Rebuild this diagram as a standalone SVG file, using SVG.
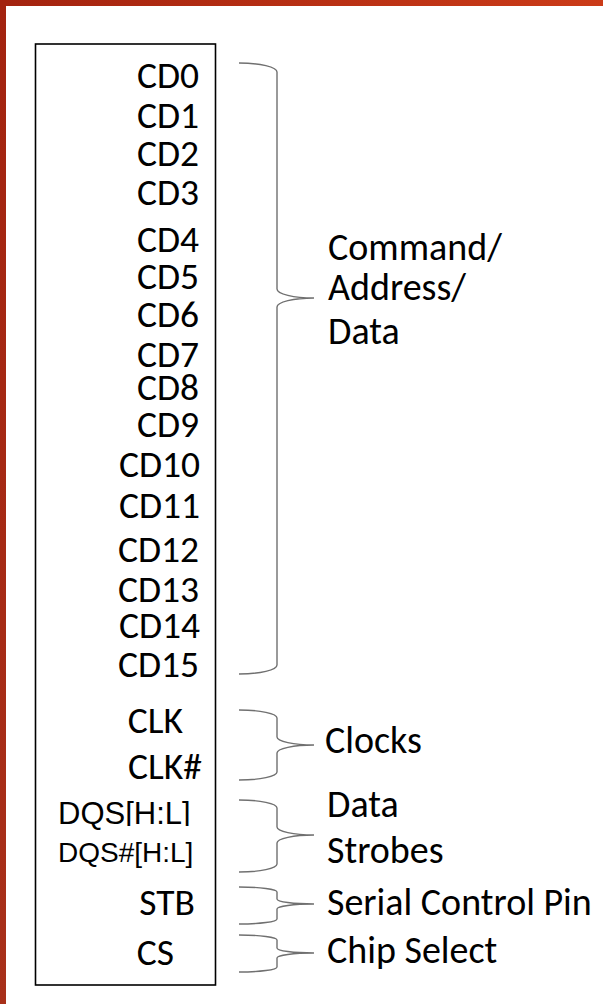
<svg xmlns="http://www.w3.org/2000/svg" width="603" height="1004" viewBox="0 0 603 1004">
  <defs>
    <linearGradient id="barTop" x1="0" y1="0" x2="1" y2="0">
      <stop offset="0" stop-color="#a3230f"/>
      <stop offset="1" stop-color="#cb3b18"/>
    </linearGradient>
    <linearGradient id="barLeft" x1="0" y1="0" x2="0" y2="1">
      <stop offset="0" stop-color="#a3230f"/>
      <stop offset="1" stop-color="#a8301a"/>
    </linearGradient>
    <!-- text box edge trims the bracket feet of the first strobe label -->
    <clipPath id="dqsClip">
      <rect x="40" y="790" width="86" height="45"/>
      <rect x="126" y="790" width="84" height="36"/>
    </clipPath>
    <style>
      .pin { font-family: Carlito, Lato, "Open Sans", sans-serif; font-size: 37.5px; fill: #000; text-anchor: end; }
      .pina { font-family: "Liberation Sans", Arial, sans-serif; fill: #000; }
      .grp { font-family: Carlito, Lato, "Open Sans", sans-serif; font-size: 38px; fill: #000; }
      .brace { fill: none; stroke: #707070; stroke-width: 1.4; }
    </style>
  </defs>

  <rect width="603" height="1004" fill="#ffffff"/>
  <!-- frame bars -->
  <rect x="0" y="0" width="603" height="6" fill="url(#barTop)"/>
  <rect x="0" y="0" width="6" height="1004" fill="url(#barLeft)"/>

  <!-- pin block -->
  <g id="pin-block">
    <rect x="35.5" y="44" width="180" height="941" fill="#fff" stroke="#000" stroke-width="1.6"/>
  </g>

  <g id="pins-cd">
    <text class="pin" x="199" y="88">CD0</text>
    <text class="pin" x="199" y="128">CD1</text>
    <text class="pin" x="199" y="166">CD2</text>
    <text class="pin" x="199" y="205">CD3</text>
    <text class="pin" x="199" y="252">CD4</text>
    <text class="pin" x="199" y="289">CD5</text>
    <text class="pin" x="199" y="327">CD6</text>
    <text class="pin" x="199" y="367">CD7</text>
    <text class="pin" x="199" y="400">CD8</text>
    <text class="pin" x="199" y="437">CD9</text>
    <text class="pin" x="200" y="477">CD10</text>
    <text class="pin" x="200" y="518">CD11</text>
    <text class="pin" x="199" y="562">CD12</text>
    <text class="pin" x="199" y="602">CD13</text>
    <text class="pin" x="200" y="638">CD14</text>
    <text class="pin" x="199" y="677">CD15</text>
  </g>

  <g id="pins-clk">
    <text class="pin" x="183" y="733">CLK</text>
    <text class="pin" x="202" y="779">CLK#</text>
  </g>

  <g id="pins-dqs">
    <text class="pina" x="58" y="824" font-size="31" clip-path="url(#dqsClip)">DQS[H:L]</text>
    <text class="pina" x="58" y="862" font-size="28">DQS#[H:L]</text>
  </g>

  <g id="pin-stb">
    <text class="pin" x="195" y="915">STB</text>
  </g>
  <g id="pin-cs">
    <text class="pin" x="174" y="965">CS</text>
  </g>

  <!-- group braces -->
  <g id="connectors">
    <path class="brace" d="M239 63 A38 9 0 0 1 277 72 L277 289 A37 9 0 0 0 314 298 A37 9 0 0 0 277 307 L277 665 A38 9 0 0 1 239 674"/>
    <path class="brace" d="M239 710 A38 8 0 0 1 277 718 L277 737 A37 8 0 0 0 314 745 A37 8 0 0 0 277 753 L277 772 A38 8 0 0 1 239 780"/>
    <path class="brace" d="M239 800 A38 8 0 0 1 277 808 L277 827 A37 8 0 0 0 314 835 A37 8 0 0 0 277 843 L277 864 A38 8 0 0 1 239 872"/>
    <path class="brace" d="M239 887 A38 5 0 0 1 277 892 L277 899 A37 5 0 0 0 314 904 A37 5 0 0 0 277 909 L277 919 A38 5 0 0 1 239 924"/>
    <path class="brace" d="M239 935 A38 5 0 0 1 277 940 L277 948 A37 5 0 0 0 314 953 A37 5 0 0 0 277 958 L277 967 A38 5 0 0 1 239 972"/>
  </g>

  <g id="label-cad">
    <text class="grp" x="328" y="260">Command/</text>
    <text class="grp" x="328" y="300">Address/</text>
    <text class="grp" x="328" y="344">Data</text>
  </g>
  <g id="label-clocks">
    <text class="grp" x="325" y="753">Clocks</text>
  </g>
  <g id="label-strobes">
    <text class="grp" x="327" y="817">Data</text>
    <text class="grp" x="327" y="863">Strobes</text>
  </g>
  <g id="label-stb">
    <text class="grp" x="327" y="915">Serial Control Pin</text>
  </g>
  <g id="label-cs">
    <text class="grp" x="327" y="963">Chip Select</text>
  </g>
</svg>
